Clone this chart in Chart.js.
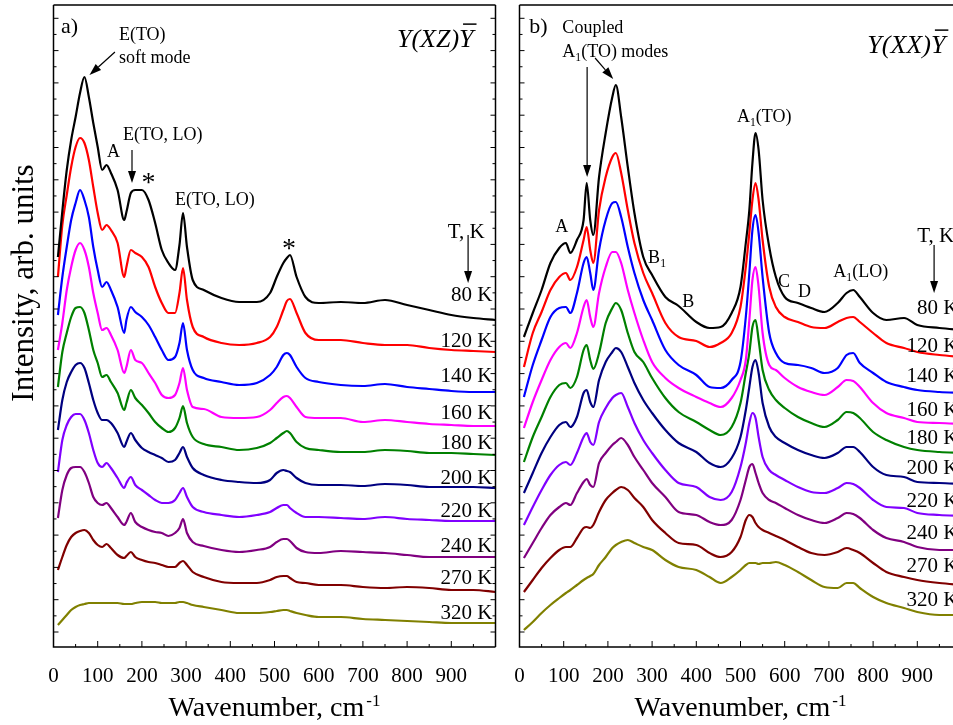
<!DOCTYPE html>
<html><head><meta charset="utf-8">
<script src="https://cdn.jsdelivr.net/npm/chart.js@4/dist/chart.umd.min.js"></script>
<style>
html,body{margin:0;padding:0;background:#fff;}
#wrap{position:relative;width:953px;height:725px;overflow:hidden;background:#fff;}
canvas{position:absolute;top:0;}
#ca{left:0;} #cb{left:466px;}
</style></head><body>
<div id="wrap"><canvas id="ca" width="500" height="725"></canvas><canvas id="cb" width="500" height="725"></canvas></div>
<script>
// ---- Panel a: Y(XZ)Y, wavenumber grid (cm-1) and offset intensities (arb. units)
const GA = [10,20,30,40,50,60,70,80,90,100,110,120,130,145,160,165,175,185,200,215,230,245,260,275,285,293,302,315,340,380,420,460,490,505,520,528,535,550,570,600,650,700,750,800,850,900,950,1000];
const a80  = [390,436,477,507,530,554,570,550,524,500,477,482,474,457,427,435,454,457,457,447,424,397,384,377,402,434,400,367,357,349,345,345,354,370,384,389,392,370,350,344,345,344,347,342,337,332,329,327];
const a120 = [370,422,452,480,500,509,504,487,460,434,417,422,417,404,370,380,397,394,390,380,360,344,334,334,354,379,347,320,310,304,302,304,310,320,337,346,348,334,314,307,307,304,302,302,299,297,296,295];
const a140 = [332,370,400,427,444,457,447,430,400,377,360,365,357,340,314,327,340,335,330,322,310,297,287,290,304,324,297,277,269,265,262,264,272,280,292,294,292,280,269,265,262,261,263,260,258,256,255,255];
const a160 = [297,324,357,380,397,404,397,380,354,334,317,319,312,297,274,280,297,287,284,274,264,252,249,252,264,279,257,240,238,230,229,230,237,244,250,251,249,240,230,229,229,225,227,225,223,222,221,221];
const a180 = [260,295,314,330,339,340,334,317,297,284,270,272,265,254,237,244,257,249,242,234,225,219,215,219,229,241,224,210,203,200,197,199,204,209,214,216,214,205,199,197,195,195,197,196,194,194,193,192];
const a200 = [217,247,265,275,282,284,279,264,247,234,227,227,224,214,200,205,214,207,199,195,192,189,185,187,194,200,190,179,172,167,165,164,167,174,177,176,175,169,164,162,162,161,163,162,160,160,160,159];
const a220 = [175,207,222,230,233,233,227,214,197,184,180,184,179,169,159,164,170,162,157,152,147,144,144,147,154,159,150,140,135,132,130,132,135,139,142,142,139,134,130,130,129,128,130,128,127,126,126,126];
const a240 = [129,157,172,179,180,180,175,164,150,144,142,144,139,130,122,125,134,125,120,117,115,114,111,114,119,128,114,105,101,97,95,97,100,105,108,108,106,99,95,94,96,95,94,92,90,90,90,90];
const a270 = [77,90,102,110,114,116,117,114,107,102,100,103,99,92,89,91,95,90,87,85,84,82,80,80,84,86,82,75,70,65,64,64,67,70,71,71,69,65,64,62,62,60,59,60,59,57,57,55];
const a320 = [22,27,32,37,40,42,43,44,44,44,44,44,44,44,43,43,43,44,45,45,45,44,44,44,45,45,44,42,40,37,34,34,35,36,37,37,36,34,32,30,30,28,27,26,25,24,24,24];

// ---- Panel b: Y(XX)Y
const GB = [10,30,50,70,90,105,115,130,145,152,160,167,180,195,210,218,230,245,260,280,300,330,360,400,430,455,480,500,512,520,527,534,541,550,565,580,600,630,660,690,720,740,755,770,800,830,870,900,950,1000];
const b80  = [310,334,357,384,399,404,394,407,427,464,427,412,470,514,550,562,530,480,434,390,372,350,341,325,319,320,334,360,404,437,484,514,497,447,400,370,350,344,339,335,344,354,357,350,334,327,329,322,319,317];
const b120 = [280,314,335,357,370,374,367,380,407,420,397,384,437,470,490,494,474,437,404,374,354,324,310,306,300,304,314,340,380,414,447,464,447,407,360,340,330,325,320,319,325,329,330,325,314,304,299,295,292,290];
const b140 = [250,282,307,330,339,340,334,354,384,390,374,357,397,427,444,445,430,400,374,347,327,297,282,272,260,259,267,285,330,374,417,432,414,370,314,294,284,282,279,274,279,292,294,284,274,265,260,257,255,254];
const b160 = [219,245,267,287,300,304,299,314,340,347,330,320,354,380,395,395,384,357,334,307,285,269,259,250,244,240,249,267,287,327,367,380,360,314,282,277,269,260,255,252,260,267,266,260,244,234,229,225,224,223];
const b180 = [185,210,230,250,262,264,259,270,297,302,287,278,294,324,339,344,337,314,295,285,269,249,235,225,217,212,220,244,274,294,320,327,307,277,257,247,239,230,224,220,227,235,234,229,215,207,200,197,195,194];
const b200 = [154,174,194,210,222,225,220,230,254,257,245,240,267,285,295,299,295,280,264,247,234,217,204,195,184,180,189,210,237,260,280,287,274,244,220,210,204,197,192,189,194,200,200,195,180,172,170,165,164,163];
const b220 = [122,140,157,172,182,185,182,194,210,214,205,202,225,239,249,252,254,240,224,207,194,177,164,160,150,147,155,180,204,224,234,229,210,190,177,172,167,160,155,154,159,164,163,159,147,140,139,134,132,131];
const b240 = [89,104,119,132,140,144,142,154,165,168,162,160,184,194,202,205,209,202,190,177,164,150,135,132,125,122,127,147,167,180,183,174,164,154,147,144,139,132,127,124,129,134,133,129,117,109,105,100,97,97];
const b270 = [55,67,79,89,97,100,100,109,119,120,119,122,135,147,154,157,160,157,149,140,127,114,104,102,94,90,95,110,127,132,130,124,120,117,114,111,107,100,94,92,95,99,97,94,84,75,70,67,64,62];
const b320 = [17,25,34,42,49,54,57,62,67,69,71,73,82,90,99,102,105,107,104,100,97,87,80,77,70,64,70,77,82,84,84,84,83,84,84,85,82,75,67,60,59,64,64,59,50,44,39,35,32,32];

const TEMPS = ['80 K','120 K','140 K','160 K','180 K','200 K','220 K','240 K','270 K','320 K'];
const X_TICKS = [0,100,200,300,400,500,600,700,800,900];
// heights (data units) at which the temperature labels sit
const LABEL_V_A = [346,300,265,228,198,163,130,95,63,28];
const LABEL_V_B = [333,295,265,231,203,173,140,108,75,41];

const COLORS = ['#000000','#ff0000','#0000ff','#ff00ff','#008000','#000080','#8000ff','#800080','#800000','#808000'];
const SERIF = '"Liberation Serif", "Times New Roman", serif';

function makeDatasets(xs, series) {
  return series.map((ys, i) => ({
    label: TEMPS[i],
    data: ys.map((y, j) => ({x: xs[j], y: y})),
    borderColor: COLORS[i], borderWidth: 2.2, pointRadius: 0, fill: false,
    cubicInterpolationMode: 'monotone'
  }));
}

function drawRuns(ctx, x, y, runs, size, italic, align) {
  let total = 0;
  const fonts = runs.map(r => {
    const s = r.sub ? size * 0.65 : size;
    return (italic ? 'italic ' : '') + s + 'px ' + SERIF;
  });
  runs.forEach((r, i) => { ctx.font = fonts[i]; total += ctx.measureText(r.t).width; });
  let cx = align === 'center' ? x - total / 2 : (align === 'right' ? x - total : x);
  ctx.textAlign = 'left'; ctx.textBaseline = 'alphabetic';
  runs.forEach((r, i) => {
    ctx.font = fonts[i];
    const w = ctx.measureText(r.t).width;
    ctx.fillText(r.t, cx, y + (r.sub ? size * 0.22 : 0));
    if (r.bar) {
      ctx.save(); ctx.lineWidth = 1.5; ctx.beginPath();
      ctx.moveTo(cx + 4, y - size * 0.88); ctx.lineTo(cx + w + 3, y - size * 0.88); ctx.stroke(); ctx.restore();
    }
    cx += w;
  });
}

function arrow(ctx, x1, y1, x2, y2) {
  const ang = Math.atan2(y2 - y1, x2 - x1), L = 12, H = 4;
  const bx = x2 - L * Math.cos(ang), by = y2 - L * Math.sin(ang);
  ctx.beginPath(); ctx.moveTo(x1, y1); ctx.lineTo(bx, by); ctx.lineWidth = 1.2; ctx.stroke();
  ctx.beginPath(); ctx.moveTo(x2, y2);
  ctx.lineTo(bx + H * Math.sin(ang), by - H * Math.cos(ang));
  ctx.lineTo(bx - H * Math.sin(ang), by + H * Math.cos(ang));
  ctx.closePath(); ctx.fill();
}

function decorPlugin(cfg) {
  return {
    id: 'decor',
    afterDraw(chart) {
      const ctx = chart.ctx, xs = chart.scales.x, ys = chart.scales.y, a = chart.chartArea;
      const X = v => xs.getPixelForValue(v), Y = v => ys.getPixelForValue(v);
      ctx.save();
      ctx.strokeStyle = '#000'; ctx.fillStyle = '#000';
      // frame
      ctx.lineWidth = 1.5;
      ctx.beginPath();
      ctx.moveTo(a.left, a.top); ctx.lineTo(a.left, a.bottom); ctx.lineTo(a.right + (cfg.rightBorder ? 0 : 20), a.bottom);
      ctx.moveTo(a.left, a.top); ctx.lineTo(a.right + (cfg.rightBorder ? 0 : 20), a.top);
      if (cfg.rightBorder) { ctx.moveTo(a.right, a.top); ctx.lineTo(a.right, a.bottom); }
      ctx.stroke();
      // ticks
      ctx.lineWidth = 1;
      ctx.beginPath();
      for (let v = 0; v <= 1000; v += 50) {
        const len = v % 100 === 0 ? 6 : 3, px = X(v);
        ctx.moveTo(px, a.bottom); ctx.lineTo(px, a.bottom - len);
      }
      for (let n = 0; ; n++) {
        const v = 15 + 16.15 * n; if (v > 640) break;
        const len = n % 2 === 0 ? 5 : 3, py = Y(v);
        ctx.moveTo(a.left, py); ctx.lineTo(a.left + len, py);
        if (cfg.rightBorder) { ctx.moveTo(a.right, py); ctx.lineTo(a.right - len, py); }
      }
      ctx.stroke();
      // x-axis title
      ctx.font = '28px ' + SERIF;
      const t1 = 'Wavenumber, cm', w1 = ctx.measureText(t1).width;
      ctx.font = '17px ' + SERIF;
      const t2 = '-1', w2 = ctx.measureText(t2).width;
      const sx = (a.left + a.right) / 2 - (w1 + w2 + 2) / 2;
      ctx.textAlign = 'left'; ctx.textBaseline = 'alphabetic';
      ctx.font = '28px ' + SERIF; ctx.fillText(t1, sx, 716);
      ctx.font = '17px ' + SERIF; ctx.fillText(t2, sx + w1 + 2, 706);
      // y-axis title
      if (cfg.yTitle) {
        ctx.save(); ctx.translate(33, 283); ctx.rotate(-Math.PI / 2);
        ctx.font = '31px ' + SERIF; ctx.textAlign = 'center'; ctx.fillText(cfg.yTitle, 0, 0);
        ctx.restore();
      }
      // temperature labels
      ctx.font = '21px ' + SERIF; ctx.textAlign = 'right';
      cfg.labelV.forEach((v, i) => ctx.fillText(TEMPS[i], a.right - 3, Y(v)));
      // annotations
      cfg.texts.forEach(t => drawRuns(ctx, X(t.x), Y(t.y), t.runs, t.size, t.italic, t.align));
      cfg.arrows.forEach(r => arrow(ctx, X(r[0]), Y(r[1]), X(r[2]), Y(r[3])));
      ctx.restore();
    }
  };
}

function makeChart(id, xs, series, cfg) {
  return new Chart(document.getElementById(id), {
    type: 'line',
    data: { datasets: makeDatasets(xs, series) },
    options: {
      responsive: false, animation: false, devicePixelRatio: 1,
      layout: { padding: { top: 5, right: 4.5, left: 0, bottom: 0 } },
      plugins: { legend: { display: false }, tooltip: { enabled: false } },
      scales: {
        x: {
          type: 'linear', min: 0, max: 1000,
          afterFit: s => { s.height = 78; },
          afterBuildTicks: s => { s.ticks = X_TICKS.map(v => ({ value: v })); },
          grid: { display: false, drawTicks: false }, border: { display: false },
          ticks: { autoSkip: false, maxRotation: 0, minRotation: 0, padding: 19, color: '#000',
                   font: { family: SERIF, size: 21, lineHeight: 1 },
                   callback: v => String(v) }
        },
        y: {
          type: 'linear', min: 0, max: 642,
          afterFit: s => { s.width = 53.5; },
          grid: { display: false, drawTicks: false }, border: { display: false },
          ticks: { display: false }
        }
      }
    },
    plugins: [decorPlugin(cfg)]
  });
}

makeChart('ca', GA, [a80,a120,a140,a160,a180,a200,a220,a240,a270,a320], {
  rightBorder: true, yTitle: 'Intensity, arb. units', labelV: LABEL_V_A,
  texts: [
    { x: 17, y: 614, size: 22, runs: [{ t: 'a)' }] },
    { x: 148, y: 607, size: 18, runs: [{ t: 'E(TO)' }] },
    { x: 148, y: 584, size: 18, runs: [{ t: 'soft mode' }] },
    { x: 121, y: 490, size: 18, runs: [{ t: 'A' }] },
    { x: 157, y: 507, size: 18, runs: [{ t: 'E(TO, LO)' }] },
    { x: 215, y: 456, size: 28, align: 'center', runs: [{ t: '*' }] },
    { x: 275, y: 442, size: 18, runs: [{ t: 'E(TO, LO)' }] },
    { x: 533, y: 390, size: 28, align: 'center', runs: [{ t: '*' }] },
    { x: 892, y: 409, size: 21, runs: [{ t: 'T, K' }] },
    { x: 777, y: 600, size: 26, italic: true, runs: [{ t: 'Y(XZ)' }, { t: 'Y', bar: true }] }
  ],
  arrows: [[139, 595, 81.4, 572], [177.6, 497, 177.6, 464], [938, 412, 938, 364]]
});

makeChart('cb', GB, [b80,b120,b140,b160,b180,b200,b220,b240,b270,b320], {
  rightBorder: false, yTitle: null, labelV: LABEL_V_B,
  texts: [
    { x: 22, y: 614, size: 22, runs: [{ t: 'b)' }] },
    { x: 97, y: 614, size: 18, runs: [{ t: 'Coupled' }] },
    { x: 97, y: 590, size: 18, runs: [{ t: 'A' }, { t: '1', sub: true }, { t: '(TO) modes' }] },
    { x: 81, y: 415, size: 18, runs: [{ t: 'A' }] },
    { x: 291, y: 384, size: 18, runs: [{ t: 'B' }, { t: '1', sub: true }] },
    { x: 368, y: 340, size: 18, runs: [{ t: 'B' }] },
    { x: 492, y: 525, size: 18, runs: [{ t: 'A' }, { t: '1', sub: true }, { t: '(TO)' }] },
    { x: 585, y: 360, size: 18, runs: [{ t: 'C' }] },
    { x: 630, y: 350, size: 18, runs: [{ t: 'D' }] },
    { x: 710, y: 370, size: 18, runs: [{ t: 'A' }, { t: '1', sub: true }, { t: '(LO)' }] },
    { x: 900, y: 405, size: 21, runs: [{ t: 'T, K' }] },
    { x: 787, y: 594, size: 26, italic: true, runs: [{ t: 'Y(XX)' }, { t: 'Y', bar: true }] }
  ],
  arrows: [[153, 580, 153, 470], [171, 589, 212, 568], [938, 402, 938, 354]]
});
</script>
</body></html>
